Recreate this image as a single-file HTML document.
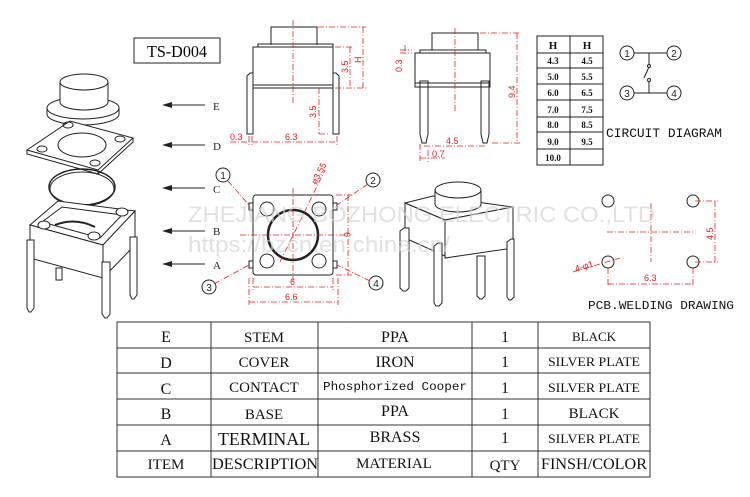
<!DOCTYPE html>
<html><head><meta charset="utf-8"><style>
html,body{margin:0;padding:0;background:#fff;}
svg{display:block}
text{font-family:"Liberation Serif",serif;}
.k{stroke:#222;fill:none;stroke-width:1}
.kf{stroke:#222;fill:#fff;stroke-width:1}
.r{stroke:#e02020;fill:none;stroke-width:0.8}
.rd{stroke:#e02020;fill:none;stroke-width:0.8;stroke-dasharray:6 2 1 2}
.rt{fill:#e02020;font-family:"Liberation Sans",sans-serif;font-size:9px}
</style></head><body>
<svg width="750" height="497" viewBox="0 0 750 497" xmlns="http://www.w3.org/2000/svg">
<rect width="750" height="497" fill="#fff"/>

<!-- Title box -->
<rect x="134" y="38" width="86" height="25" class="k"/>
<text x="177" y="57" text-anchor="middle" font-size="17" textLength="60" lengthAdjust="spacingAndGlyphs">TS-D004</text>

<!-- Exploded view -->
<g class="k">
 <ellipse cx="83" cy="108" rx="36" ry="11" class="kf"/>
 <path d="M47 108 v6 a36 11 0 0 0 72 0 v-6"/>
 <path d="M60 82 v20 a24 8 0 0 0 48 0 v-20" class="kf"/>
 <ellipse cx="84" cy="82" rx="24" ry="8" class="kf"/>
 <polygon points="27,150 70,121 133,138 98,170" class="kf"/>
 <path d="M27 150 v4 l71 20 v-4 M98 174 l35 -32 v-4"/>
 <ellipse cx="82" cy="145" rx="24" ry="12"/>
 <ellipse cx="68" cy="125" rx="5" ry="3"/><ellipse cx="120" cy="139" rx="5" ry="3"/>
 <ellipse cx="42" cy="149" rx="5" ry="3"/><ellipse cx="95" cy="163" rx="5" ry="3"/>
 <ellipse cx="82" cy="187" rx="33" ry="18" stroke-width="1.5"/>
 <ellipse cx="82" cy="189" rx="32" ry="17"/>
 <polygon points="30,225 58,201 135,211 103,245" class="kf"/>
 <polygon points="30,225 103,245 103,278 30,258" class="kf"/>
 <polygon points="103,245 135,211 135,245 103,278" class="kf"/>
 <path d="M42 222 l20 -15 l60 8 l-22 23 z"/>
 <ellipse cx="44" cy="225" rx="6" ry="4" class="kf"/><ellipse cx="122" cy="212" rx="6" ry="4" class="kf"/>
 <ellipse cx="94" cy="236" rx="6" ry="4" class="kf"/>
 <path d="M55 225 q20 -8 40 2" stroke-width="2"/>
 <path d="M27 240 h7 v68 l-3 4 h-2 l-2 -4 z" class="kf"/>
 <path d="M102 262 h8 v52 l-3 4 h-2 l-3 -4 z" class="kf"/>
 <path d="M130 237 h7 v58 l-3 4 h-2 l-2 -4 z" class="kf"/>
 <path d="M56 268 h6 v12 h-6z"/>
</g>

<g stroke="#222" stroke-width="1">
 <line x1="165" y1="105" x2="205" y2="105"/><line x1="165" y1="145" x2="205" y2="145"/>
 <line x1="165" y1="188" x2="205" y2="188"/><line x1="165" y1="231" x2="205" y2="231"/>
 <line x1="165" y1="264" x2="205" y2="264"/>
</g>
<g fill="#222">
 <polygon points="162,105 172,102 172,108"/><polygon points="162,145 172,142 172,148"/>
 <polygon points="162,188 172,185 172,191"/><polygon points="162,231 172,228 172,234"/>
 <polygon points="162,264 172,261 172,267"/>
</g>
<g font-size="11" style="font-family:'Liberation Mono',monospace" fill="#222">
 <text x="213" y="110">E</text><text x="213" y="150">D</text><text x="213" y="193">C</text>
 <text x="213" y="235">B</text><text x="213" y="269">A</text>
</g>

<!-- side view 1 -->
<g class="k">
 <path d="M271 45 v-18 h46 v18"/>
 <rect x="258" y="44" width="75" height="3"/>
 <rect x="253" y="47" width="80" height="41"/>
 <line x1="253" y1="85" x2="333" y2="85"/>
 <path d="M247 134 v-58 l3 -3 h3 v61 z"/>
 <path d="M339 134 v-58 l-3 -3 h-3 v61 z"/>
</g>
<line x1="293" y1="20" x2="293" y2="105" class="rd"/>
<g class="rd">
 <line x1="318" y1="27" x2="366" y2="27"/><line x1="363" y1="27" x2="363" y2="88"/>
 <line x1="335" y1="47" x2="353" y2="47"/><line x1="350" y1="47" x2="350" y2="88"/>
 <line x1="335" y1="88" x2="366" y2="88"/>
 <line x1="319" y1="88" x2="319" y2="134"/><line x1="319" y1="134" x2="330" y2="134"/>
 <line x1="230" y1="142" x2="337" y2="142"/><line x1="249" y1="136" x2="249" y2="146"/><line x1="252" y1="136" x2="252" y2="146"/><line x1="337" y1="136" x2="337" y2="146"/>
</g>
<text class="rt" x="361" y="63" transform="rotate(-90 361 63)">H</text>
<text class="rt" x="348" y="73" transform="rotate(-90 348 73)">3.5</text>
<text class="rt" x="316" y="118" transform="rotate(-90 316 118)">3.5</text>
<text class="rt" x="230" y="140">0.3</text>
<text class="rt" x="285" y="140">6.3</text>

<!-- top view -->
<g class="k">
 <rect x="253" y="195" width="80" height="80" rx="3" class="kf"/>
 <rect x="249" y="203" width="4" height="7"/><rect x="333" y="203" width="4" height="7"/>
 <rect x="249" y="261" width="4" height="7"/><rect x="333" y="261" width="4" height="7"/>
 <circle cx="293" cy="235" r="25" stroke-width="2.5"/>
 <circle cx="267" cy="209" r="7"/><circle cx="319" cy="209" r="7"/>
 <circle cx="267" cy="261" r="7"/><circle cx="319" cy="261" r="7"/>
 <circle cx="223" cy="175" r="7"/><circle cx="373" cy="180" r="7"/>
 <circle cx="209" cy="287" r="7"/><circle cx="376" cy="283" r="7"/>
</g>
<g font-size="10" fill="#222" text-anchor="middle">
 <text x="223" y="179" style="font-family:'Liberation Sans'">1</text><text x="373" y="184" style="font-family:'Liberation Sans'">2</text>
 <text x="209" y="291" style="font-family:'Liberation Sans'">3</text><text x="376" y="287" style="font-family:'Liberation Sans'">4</text>
</g>
<g class="rd">
 <line x1="293" y1="188" x2="293" y2="285"/><line x1="240" y1="235" x2="345" y2="235"/>
 <line x1="280" y1="262" x2="325" y2="170"/>
 <line x1="228" y1="181" x2="249" y2="205"/><line x1="368" y1="184" x2="337" y2="205"/>
 <line x1="214" y1="284" x2="249" y2="265"/><line x1="370" y1="281" x2="337" y2="265"/>
 <line x1="336" y1="195" x2="352" y2="195"/><line x1="348" y1="195" x2="348" y2="275"/><line x1="336" y1="275" x2="352" y2="275"/>
 <line x1="253" y1="278" x2="253" y2="290"/><line x1="333" y1="278" x2="333" y2="290"/>
 <line x1="253" y1="287" x2="333" y2="287"/>
 <line x1="249" y1="278" x2="249" y2="305"/><line x1="338" y1="278" x2="338" y2="305"/>
 <line x1="249" y1="302" x2="338" y2="302"/>
</g>
<text class="rt" x="316" y="185" transform="rotate(-62 316 185)">ø3.55</text>
<text class="rt" x="344" y="232" transform="rotate(90 344 232)">6</text>
<text class="rt" x="290" y="285">6</text>
<text class="rt" x="285" y="300">6.6</text>

<!-- side view 2 -->
<g class="k">
 <path d="M432 50 v-17 h46 v17"/>
 <rect x="420" y="50" width="66" height="3"/>
 <rect x="415" y="53" width="75" height="34"/>
 <line x1="415" y1="83" x2="490" y2="83"/>
 <path d="M420 134 l2 9 h4 l2 -9 v-53 h-8 z"/>
 <path d="M481 134 l2 9 h4 l2 -9 v-53 h-8 z"/>
</g>
<g class="rd">
 <line x1="455" y1="28" x2="455" y2="112"/>
 <line x1="480" y1="33" x2="520" y2="33"/><line x1="517" y1="33" x2="517" y2="143"/><line x1="492" y1="143" x2="520" y2="143"/>
 <line x1="405" y1="45" x2="405" y2="56"/><line x1="400" y1="50" x2="412" y2="50"/><line x1="400" y1="53" x2="412" y2="53"/>
 <line x1="424" y1="146" x2="485" y2="146"/><line x1="420" y1="144" x2="420" y2="162"/><line x1="428" y1="150" x2="428" y2="162"/>
 <line x1="420" y1="158" x2="445" y2="158"/>
</g>
<text class="rt" x="402" y="72" transform="rotate(-90 402 72)">0.3</text>
<text class="rt" x="515" y="98" transform="rotate(-90 515 98)">9.4</text>
<text class="rt" x="446" y="144">4.5</text>
<text class="rt" x="432" y="157">0.7</text>

<!-- H table -->
<g class="k">
 <rect x="537" y="36" width="66" height="129"/>
 <line x1="570" y1="36" x2="570" y2="165"/>
 <line x1="537" y1="53" x2="603" y2="53"/><line x1="537" y1="68" x2="603" y2="68"/>
 <line x1="537" y1="84" x2="603" y2="84"/><line x1="537" y1="100" x2="603" y2="100"/>
 <line x1="537" y1="117" x2="603" y2="117"/><line x1="537" y1="132" x2="603" y2="132"/>
 <line x1="537" y1="149" x2="603" y2="149"/>
</g>
<g font-size="9" fill="#111" text-anchor="middle" font-weight="bold" style="font-family:'Liberation Mono',monospace">
 <text x="553" y="49" font-size="11">H</text><text x="587" y="49" font-size="11">H</text>
 <text x="553" y="64">4.3</text><text x="587" y="64">4.5</text>
 <text x="553" y="80">5.0</text><text x="587" y="80">5.5</text>
 <text x="553" y="96">6.0</text><text x="587" y="96">6.5</text>
 <text x="553" y="113">7.0</text><text x="587" y="113">7.5</text>
 <text x="553" y="128">8.0</text><text x="587" y="128">8.5</text>
 <text x="553" y="145">9.0</text><text x="587" y="145">9.5</text>
 <text x="553" y="161">10.0</text>
</g>

<!-- circuit -->
<g class="k">
 <circle cx="627" cy="53" r="7"/><circle cx="674" cy="53" r="7"/>
 <circle cx="627" cy="93" r="7"/><circle cx="674" cy="93" r="7"/>
 <line x1="634" y1="53" x2="667" y2="53"/><line x1="634" y1="93" x2="667" y2="93"/>
 <line x1="649" y1="53" x2="649" y2="65"/><line x1="649" y1="82" x2="649" y2="93"/>
 <line x1="649" y1="67" x2="644" y2="78"/>
 <circle cx="649" cy="66" r="1.5"/><circle cx="649" cy="80" r="1.5"/>
</g>
<g font-size="10" fill="#222" text-anchor="middle">
 <text x="627" y="57" style="font-family:'Liberation Sans'">1</text><text x="674" y="57" style="font-family:'Liberation Sans'">2</text>
 <text x="627" y="97" style="font-family:'Liberation Sans'">3</text><text x="674" y="97" style="font-family:'Liberation Sans'">4</text>
</g>
<text x="606" y="137" font-size="13" fill="#111" style="font-family:'Liberation Mono',monospace" textLength="116" lengthAdjust="spacingAndGlyphs">CIRCUIT DIAGRAM</text>

<!-- assembled 3D -->
<g class="k">
 <polygon points="405,203 433,196 513,207 445,220" class="kf"/>
 <polygon points="405,203 445,220 445,256 405,238" class="kf"/>
 <polygon points="445,220 513,207 513,248 445,258" class="kf"/>
 <path d="M435 190 v14 a23 8 0 0 0 46 0 v-14" class="kf"/>
 <ellipse cx="458" cy="190" rx="23" ry="8" class="kf"/>
 <path d="M400 231 l4 -3 h5 v60 l-3 3 h-3 l-3 -3 z" class="kf"/>
 <path d="M434 246 l4 -3 h4 v60 l-3 3 h-3 l-2 -3 z" class="kf"/>
 <path d="M477 256 h8 v40 l-3 3 h-2 l-3 -3 z" class="kf"/>
 <path d="M507 242 l4 -3 h3 v58 l-3 3 h-2 l-2 -3 z" class="kf"/>
</g>

<!-- PCB -->
<g class="k">
 <circle cx="608" cy="201" r="6"/><circle cx="693" cy="201" r="6"/>
 <circle cx="608" cy="262" r="6"/><circle cx="693" cy="262" r="6"/>
</g>
<g class="rd">
 <line x1="651" y1="203" x2="651" y2="262"/><line x1="607" y1="232" x2="695" y2="232"/>
 <line x1="695" y1="201" x2="718" y2="201"/><line x1="695" y1="262" x2="718" y2="262"/><line x1="715" y1="201" x2="715" y2="262"/>
 <line x1="608" y1="268" x2="608" y2="286"/><line x1="693" y1="268" x2="693" y2="286"/><line x1="608" y1="284" x2="693" y2="284"/>
 <line x1="573" y1="272" x2="620" y2="258"/>
</g>
<text class="rt" x="713" y="240" transform="rotate(-90 713 240)">4.5</text>
<text class="rt" x="644" y="281">6.3</text>
<text class="rt" x="576" y="272" transform="rotate(-18 576 272)">4-φ1</text>
<text x="588" y="309" font-size="12" fill="#111" style="font-family:'Liberation Mono',monospace" textLength="146" lengthAdjust="spacingAndGlyphs">PCB.WELDING DRAWING</text>

<!-- watermark -->
<g fill="#d0d0d0" opacity="0.65">
 <text x="188" y="222" font-size="22" textLength="467" lengthAdjust="spacingAndGlyphs" style="font-family:'Liberation Sans'">ZHEJIANG BOZHONG ELECTRIC CO.,LTD</text>
 <text x="188" y="252" font-size="22" textLength="262" lengthAdjust="spacingAndGlyphs" style="font-family:'Liberation Sans'">https://bzcn.en.china.cn/</text>
</g>

<!-- parts table -->
<g stroke="#333" stroke-width="1" fill="none">
 <rect x="117" y="322" width="533" height="155"/>
 <line x1="211" y1="322" x2="211" y2="477"/><line x1="318" y1="322" x2="318" y2="477"/>
 <line x1="472" y1="322" x2="472" y2="477"/><line x1="538" y1="322" x2="538" y2="477"/>
 <line x1="117" y1="348" x2="650" y2="348"/><line x1="117" y1="373" x2="650" y2="373"/>
 <line x1="117" y1="399" x2="650" y2="399"/><line x1="117" y1="425" x2="650" y2="425"/>
 <line x1="117" y1="451" x2="650" y2="451"/>
</g>
<g fill="#111" text-anchor="middle" font-size="16">
 <text x="166" y="342">E</text><text x="264" y="342" font-size="15">STEM</text><text x="395" y="342">PPA</text><text x="505" y="342">1</text><text x="594" y="341" font-size="13">BLACK</text>
 <text x="166" y="368">D</text><text x="264" y="367" font-size="15">COVER</text><text x="395" y="367">IRON</text><text x="505" y="367">1</text><text x="594" y="366" font-size="13" textLength="92" lengthAdjust="spacingAndGlyphs">SILVER PLATE</text>
 <text x="166" y="394">C</text><text x="264" y="392" font-size="15">CONTACT</text><text x="395" y="390" font-size="12" textLength="144" lengthAdjust="spacingAndGlyphs" style="font-family:'Liberation Mono',monospace">Phosphorized Cooper</text><text x="505" y="393">1</text><text x="594" y="392" font-size="13" textLength="92" lengthAdjust="spacingAndGlyphs">SILVER PLATE</text>
 <text x="166" y="419">B</text><text x="264" y="419" font-size="15">BASE</text><text x="395" y="416">PPA</text><text x="505" y="419">1</text><text x="594" y="418" font-size="15">BLACK</text>
 <text x="166" y="445">A</text><text x="264" y="445" font-size="18" textLength="92" lengthAdjust="spacingAndGlyphs">TERMINAL</text><text x="395" y="442">BRASS</text><text x="505" y="443">1</text><text x="594" y="443" font-size="13" textLength="92" lengthAdjust="spacingAndGlyphs">SILVER PLATE</text>
 <text x="166" y="469" font-size="15">ITEM</text><text x="265" y="469" textLength="106" lengthAdjust="spacingAndGlyphs">DESCRIPTION</text><text x="394" y="468" font-size="15">MATERIAL</text><text x="505" y="470" font-size="15">QTY</text><text x="594" y="469" textLength="106" lengthAdjust="spacingAndGlyphs">FINSH/COLOR</text>
</g>
</svg>
</body></html>
